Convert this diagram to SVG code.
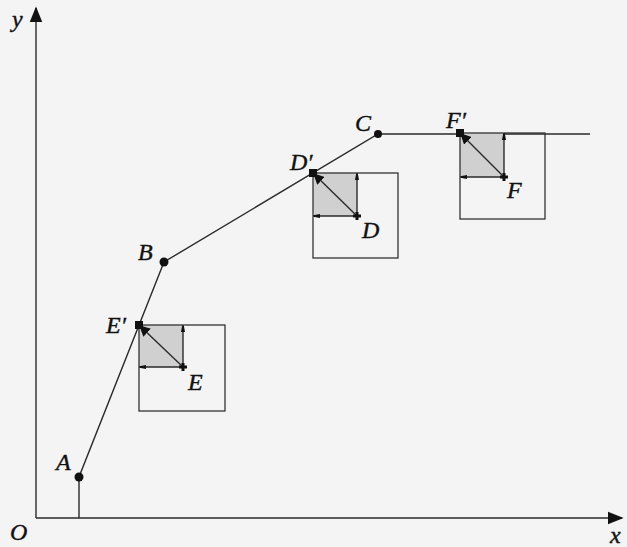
<svg xmlns="http://www.w3.org/2000/svg" width="627" height="547" viewBox="0 0 627 547">
<style>
.ln{stroke:#2a2a2a;stroke-width:1.4;fill:none}
.bx{stroke:#333;stroke-width:1.3;fill:none}
.sq{fill:#d0d0d0;stroke:none}
.lb{font-family:"Liberation Serif",serif;font-style:italic;font-size:24px;fill:#111;stroke:#111;stroke-width:0.4}
.pt{fill:#111}
</style>
<defs>
<marker id="ah" viewBox="0 0 10 10" refX="9" refY="5" markerWidth="11" markerHeight="11" markerUnits="userSpaceOnUse" orient="auto"><path d="M0,0 L10,5 L0,10 z" fill="#111"/></marker>
<marker id="big" viewBox="0 0 10 10" refX="9" refY="5" markerWidth="16" markerHeight="16" markerUnits="userSpaceOnUse" orient="auto"><path d="M0,1 L10,5 L0,9 z" fill="#111"/></marker>
<marker id="sm" viewBox="0 0 10 10" refX="9" refY="5" markerWidth="7" markerHeight="7" markerUnits="userSpaceOnUse" orient="auto"><path d="M0,2 L10,4 L10,6 L0,8 z" fill="#111"/></marker>
</defs>
<rect width="627" height="547" fill="#f4f4f4"/>
<g id="connectors">
<line class="ln" x1="36" y1="518" x2="36" y2="8" marker-end="url(#big)"/>
<line class="ln" x1="36" y1="518" x2="622" y2="518" marker-end="url(#big)"/>
<polyline class="ln" points="79,518 79,477 164,262 378,134 590,134"/>
</g>
<g id="nodeA"><circle class="pt" cx="79" cy="477" r="4.5"/><text class="lb" x="56" y="470">A</text></g>
<g id="nodeB"><circle class="pt" cx="164" cy="262" r="4.5"/><text class="lb" x="138" y="260">B</text></g>
<g id="nodeC"><circle class="pt" cx="378" cy="134" r="4"/><text class="lb" x="355" y="131">C</text></g>
<g id="boxE">
<rect class="sq" x="139" y="325" width="44" height="42"/>
<rect class="bx" x="139" y="325" width="86" height="86"/>
<line class="ln" x1="183" y1="367" x2="183" y2="326" marker-end="url(#sm)"/>
<line class="ln" x1="183" y1="367" x2="140" y2="367" marker-end="url(#sm)"/>
<line class="ln" x1="183" y1="367" x2="140" y2="326" marker-end="url(#ah)"/>
<rect class="pt" x="135" y="321" width="8" height="8"/>
<path d="M179,367 h8 M183,363 v8" stroke="#111" stroke-width="3"/>
<text class="lb" x="106" y="333">E′</text>
<text class="lb" x="188" y="390">E</text>
</g>
<g id="boxD">
<rect class="sq" x="313" y="173" width="44" height="43"/>
<rect class="bx" x="313" y="173" width="85" height="85"/>
<line class="ln" x1="357" y1="216" x2="357" y2="174" marker-end="url(#sm)"/>
<line class="ln" x1="357" y1="216" x2="314" y2="216" marker-end="url(#sm)"/>
<line class="ln" x1="357" y1="216" x2="314" y2="174" marker-end="url(#ah)"/>
<rect class="pt" x="309" y="169" width="8" height="8"/>
<path d="M353,216 h8 M357,212 v8" stroke="#111" stroke-width="3"/>
<text class="lb" x="290" y="170">D′</text>
<text class="lb" x="362" y="238">D</text>
</g>
<g id="boxF">
<rect class="sq" x="460" y="133" width="44" height="44"/>
<rect class="bx" x="460" y="133" width="85" height="86"/>
<line class="ln" x1="504" y1="177" x2="504" y2="134" marker-end="url(#sm)"/>
<line class="ln" x1="504" y1="177" x2="461" y2="177" marker-end="url(#sm)"/>
<line class="ln" x1="504" y1="177" x2="461" y2="134" marker-end="url(#ah)"/>
<rect class="pt" x="456" y="129" width="8" height="8"/>
<path d="M500,177 h8 M504,173 v8" stroke="#111" stroke-width="3"/>
<text class="lb" x="446" y="128">F′</text>
<text class="lb" x="507" y="198">F</text>
</g>
<g id="labels">
<text class="lb" x="12" y="27">y</text>
<text class="lb" x="10" y="540">O</text>
<text class="lb" x="610" y="543">x</text>
</g>
</svg>
